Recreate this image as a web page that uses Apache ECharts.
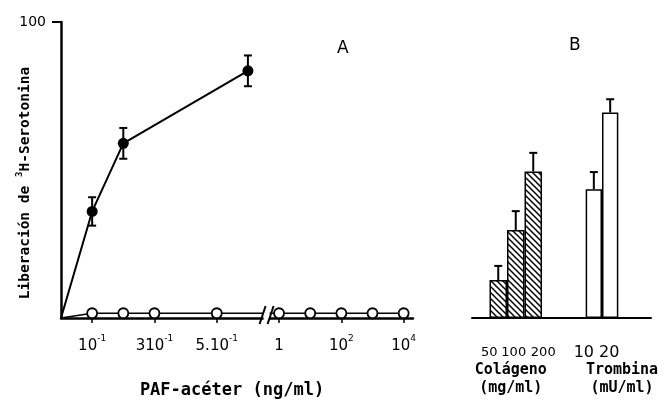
<!DOCTYPE html>
<html>
<head>
<meta charset="utf-8">
<script src="https://cdn.jsdelivr.net/npm/echarts@6/dist/echarts.min.js"></script>
<style>
  html, body { margin: 0; padding: 0; background: #fff; }
  #main { width: 664px; height: 403px; }
</style>
</head>
<body>
<div id="main"></div>
<script>
// Panel A: release vs PAF-acéter dose (ng/ml)
const pafDose = [0, 0.1, 0.2, 0.6];
const pafRelease = [0, 36, 59, 83.5];
const pafErr = [0, 4.8, 5.2, 5.2];
const ctrlDose = [0, 0.1, 0.2, 0.3, 0.5, 1, 10, 100, 1000, 10000];
const ctrlRelease = [0, 1.6, 1.6, 1.6, 1.6, 1.6, 1.6, 1.6, 1.6, 1.6];
const doseTicks = [0.1, 0.3, 0.5, 1, 100, 10000];
const doseTickLabels = [['10', '-1'], ['310', '-1'], ['5.10', '-1'], ['1', ''], ['10', '2'], ['10', '4']];

// Panel B: collagen and thrombin
const colCats = ['50', '100', '200'];
const colRelease = [12.8, 29.7, 49.5];
const colErr = [4.8, 6.4, 6.3];
const tromCats = ['10', '20'];
const tromRelease = [43.5, 69.4];
const tromErr = [5.8, 4.5];

const FONT = 'DejaVu Sans';
const MONO = 'DejaVu Sans Mono';

// broken dose axis: linear below 1, log above
function pos(c) {
  return c < 1 ? c * 10 : 7 + Math.log10(c);
}

function hatch() {
  const c = document.createElement('canvas');
  c.width = 6; c.height = 6;
  const g = c.getContext('2d');
  g.fillStyle = '#fff';
  g.fillRect(0, 0, 6, 6);
  g.strokeStyle = '#000';
  g.lineWidth = 1.5;
  [-6, 0, 6].forEach(o => {
    g.beginPath();
    g.moveTo(o - 1, -1);
    g.lineTo(o + 7, 7);
    g.stroke();
  });
  return c;
}

function errBars(axisIdx, pts, cap, twoSided) {
  return {
    type: 'custom',
    xAxisIndex: axisIdx,
    yAxisIndex: axisIdx,
    data: pts,
    z: 5,
    silent: true,
    renderItem(params, api) {
      const x = api.value(0), y = api.value(1), e = api.value(2);
      if (!e) return null;
      const top = api.coord([x, y + e]);
      const bot = api.coord([x, twoSided ? y - e : y]);
      const st = { stroke: '#000', lineWidth: 2 };
      const kids = [
        { type: 'line', shape: { x1: top[0], y1: top[1], x2: bot[0], y2: bot[1] }, style: st },
        { type: 'line', shape: { x1: top[0] - cap, y1: top[1], x2: top[0] + cap, y2: top[1] }, style: st }
      ];
      if (twoSided) {
        kids.push({ type: 'line', shape: { x1: bot[0] - cap, y1: bot[1], x2: bot[0] + cap, y2: bot[1] }, style: st });
      }
      return { type: 'group', children: kids };
    }
  };
}

const chart = echarts.init(document.getElementById('main'), null, { renderer: 'canvas' });

const tickPos = doseTicks.map(pos);
const pad1 = [''].concat(colCats, ['']);
const pad2 = ['', ''].concat(tromCats, ['', '']);
const colData = [null].concat(colRelease, [null]);
const tromData = [null, null].concat(tromRelease, [null, null]);

const txt = (size, extra) => Object.assign({ fontFamily: MONO, fontWeight: 'bold', fontSize: size, color: '#000' }, extra || {});

const option = {
  backgroundColor: '#fff',
  animation: false,
  textStyle: { fontFamily: FONT, color: '#000' },
  title: [
    { text: 'A', left: 332, top: 35, textStyle: { fontFamily: FONT, fontSize: 17, fontWeight: 'normal', color: '#000' } },
    { text: 'B', left: 564, top: 32, textStyle: { fontFamily: FONT, fontSize: 17, fontWeight: 'normal', color: '#000' } }
  ],
  grid: [
    { left: 61, top: 22, width: 352, height: 296, containLabel: false, outerBoundsMode: 'none' },
    { left: 472, top: 22, width: 87.5, height: 296, containLabel: false, outerBoundsMode: 'none' },
    { left: 553, top: 22, width: 98, height: 296, containLabel: false, outerBoundsMode: 'none' }
  ],
  xAxis: [
    {
      type: 'value', gridIndex: 0, min: 0, max: 11.3,
      splitLine: { show: false },
      axisLine: { lineStyle: { color: '#000', width: 2.5 } },
      axisTick: { customValues: tickPos, length: 5, lineStyle: { color: '#000', width: 1.5 } },
      axisLabel: {
        customValues: tickPos,
        margin: 16,
        formatter: v => {
          const i = tickPos.findIndex(t => Math.abs(t - v) < 1e-6);
          if (i < 0) return '';
          const l = doseTickLabels[i];
          return '{n|' + l[0] + '}' + (l[1] ? '{s|' + l[1] + '}' : '');
        },
        rich: {
          n: { fontFamily: FONT, fontSize: 15, color: '#000', lineHeight: 20, verticalAlign: 'bottom' },
          s: { fontFamily: FONT, fontSize: 9, color: '#000', lineHeight: 20, verticalAlign: 'top' }
        }
      },
      name: 'PAF-acéter (ng/ml)',
      nameLocation: 'middle',
      nameGap: 64,
      nameMoveOverlap: false,
      nameTextStyle: txt(17, { padding: [0, 10, 0, 0] })
    },
    {
      type: 'category', gridIndex: 1, data: pad1,
      axisLine: { lineStyle: { color: '#000', width: 2 } },
      axisTick: { show: false },
      axisLabel: {
        interval: 0, margin: 28,
        formatter: v => v ? '{' + (v === '50' ? 'a' : v === '200' ? 'c' : 'b') + '|' + v + '}' : '',
        rich: {
          a: { fontFamily: FONT, fontSize: 13, color: '#000', padding: [0, 18, 0, 0] },
          b: { fontFamily: FONT, fontSize: 13, color: '#000', padding: [0, 4, 0, 0] },
          c: { fontFamily: FONT, fontSize: 13, color: '#000', padding: [0, 0, 0, 20] }
        }
      },
      name: 'Colágeno\n(mg/ml)',
      nameLocation: 'middle',
      nameGap: 43,
      nameMoveOverlap: false,
      nameTextStyle: txt(15, { lineHeight: 18, padding: [0, 10, 0, 0] })
    },
    {
      type: 'category', gridIndex: 2, data: pad2,
      axisLine: { lineStyle: { color: '#000', width: 2 } },
      axisTick: { show: false },
      axisLabel: {
        interval: 0, margin: 27,
        formatter: v => v ? '{' + (v === '10' ? 'a' : 'b') + '|' + v + '}' : '',
        rich: {
          a: { fontFamily: FONT, fontSize: 16, color: '#000', padding: [0, 20, 0, 0] },
          b: { fontFamily: FONT, fontSize: 16, color: '#000', padding: [0, 2, 0, 0] }
        }
      },
      name: 'Trombina\n(mU/ml)',
      nameLocation: 'middle',
      nameGap: 43,
      nameMoveOverlap: false,
      nameTextStyle: txt(15, { lineHeight: 18, padding: [0, 0, 0, 40] })
    }
  ],
  yAxis: [
    {
      type: 'value', gridIndex: 0, min: 0, max: 100,
      splitLine: { show: false },
      axisLine: { show: true, lineStyle: { color: '#000', width: 2.5 } },
      axisTick: { show: true, customValues: [100], length: 9, lineStyle: { color: '#000', width: 2 } },
      axisLabel: { customValues: [100], margin: 15, fontFamily: FONT, fontSize: 14, color: '#000' },
      name: '{a|Liberación de }{s|3}{a|H-Serotonina}',
      nameLocation: 'middle',
      nameGap: 28,
      nameMoveOverlap: false,
      nameTextStyle: {
        padding: [0, 26, 0, 0],
        rich: {
          a: txt(14.5, { lineHeight: 18, verticalAlign: 'bottom' }),
          s: txt(9, { lineHeight: 18, verticalAlign: 'top' })
        }
      }
    },
    { type: 'value', gridIndex: 1, min: 0, max: 100, show: false },
    { type: 'value', gridIndex: 2, min: 0, max: 100, show: false }
  ],
  series: [
    {
      type: 'line', xAxisIndex: 0, yAxisIndex: 0,
      data: ctrlDose.map((d, i) => ({
        value: [pos(d), ctrlRelease[i]],
        symbol: d === 0 ? 'none' : 'circle'
      })),
      symbolSize: 10,
      lineStyle: { color: '#000', width: 1.5 },
      itemStyle: { color: '#fff', borderColor: '#000', borderWidth: 1.8 },
      z: 3
    },
    {
      type: 'line', xAxisIndex: 0, yAxisIndex: 0,
      data: pafDose.map((d, i) => ({
        value: [pos(d), pafRelease[i]],
        symbol: d === 0 ? 'none' : 'circle'
      })),
      symbolSize: 11,
      lineStyle: { color: '#000', width: 2 },
      itemStyle: { color: '#000' },
      z: 4
    },
    errBars(0, pafDose.map((d, i) => [pos(d), pafRelease[i], pafErr[i]]), 4, true),
    {
      type: 'bar', xAxisIndex: 1, yAxisIndex: 1,
      data: colData,
      barWidth: '100%',
      itemStyle: { color: { image: hatch(), repeat: 'repeat' }, borderColor: '#000', borderWidth: 1.5 }
    },
    errBars(1, colRelease.map((v, i) => [i + 1, v, colErr[i]]), 4, false),
    {
      type: 'bar', xAxisIndex: 2, yAxisIndex: 2,
      data: tromData,
      barWidth: '100%',
      itemStyle: { color: '#fff', borderColor: '#000', borderWidth: 1.5 }
    },
    errBars(2, tromRelease.map((v, i) => [i + 2, v, tromErr[i]]), 4, false)
  ]
};

chart.setOption(option);

// axis break marks "//"
const bp = chart.convertToPixel({ xAxisIndex: 0, yAxisIndex: 0 }, [6.6, 0]);
const bx = bp[0], by = bp[1];
chart.setOption({
  graphic: [
    { type: 'rect', z: 100, shape: { x: bx - 3, y: by - 7, width: 6, height: 10 }, style: { fill: '#fff' } },
    { type: 'line', z: 101, shape: { x1: bx - 7, y1: by + 6, x2: bx - 1, y2: by - 12 }, style: { stroke: '#000', lineWidth: 2 } },
    { type: 'line', z: 101, shape: { x1: bx + 1, y1: by + 6, x2: bx + 7, y2: by - 12 }, style: { stroke: '#000', lineWidth: 2 } }
  ]
});
</script>
</body>
</html>
